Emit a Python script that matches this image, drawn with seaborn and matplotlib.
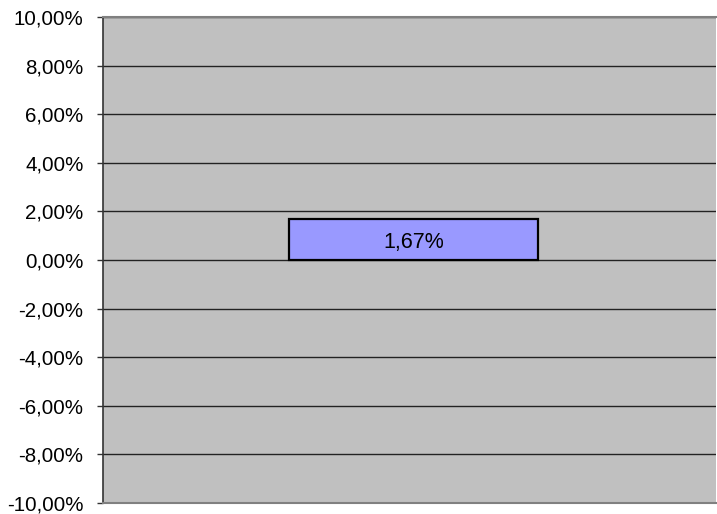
import matplotlib
matplotlib.use("Agg")
import matplotlib.pyplot as plt
import seaborn as sns
import pandas as pd
from matplotlib.ticker import FuncFormatter, MultipleLocator

categories = ["Serie 1"]
values = [1.67]
label_texts = ["1,67%"]

sns.set_style("white")
plt.rcParams['font.family'] = ['Liberation Sans', 'DejaVu Sans']

df = pd.DataFrame({"cat": categories, "val": values})

fig = plt.figure(figsize=(7.17, 5.14), dpi=100)
ax = fig.add_axes([103/717, 11/514, 613/717, 486/514])
ax.set_facecolor("#C0C0C0")

sns.barplot(data=df, x="cat", y="val", color="#9999FF", width=0.406,
            edgecolor="black", linewidth=1.6, saturation=1, ax=ax, zorder=3)

ax.set_ylim(-10, 10)
ax.set_xlim(-0.5065, 0.4935)
ax.yaxis.set_major_locator(MultipleLocator(2))
ax.yaxis.set_major_formatter(FuncFormatter(lambda v, p: f"{v:.2f}%".replace(".", ",")))
ax.grid(axis="y", color="#222222", linewidth=1.0, zorder=0)
ax.set_axisbelow(True)
ax.set_xticks([])
ax.set_xlabel("")
ax.set_ylabel("")
ax.tick_params(axis="y", direction="out", length=4, width=1, color="#333333",
               labelsize=14.8, labelcolor="black", pad=10, left=True)

for s in ["top", "bottom", "right"]:
    ax.spines[s].set_color("#808080")
    ax.spines[s].set_linewidth(1.5)
ax.spines["right"].set_visible(False)
ax.spines["left"].set_color("#333333")
ax.spines["left"].set_linewidth(1.2)

for i, (v, t) in enumerate(zip(values, label_texts)):
    ax.text(i, v / 2, t, ha="center", va="center_baseline", fontsize=15.5,
            color="black", zorder=4)

fig.savefig("out.png", dpi=100)
